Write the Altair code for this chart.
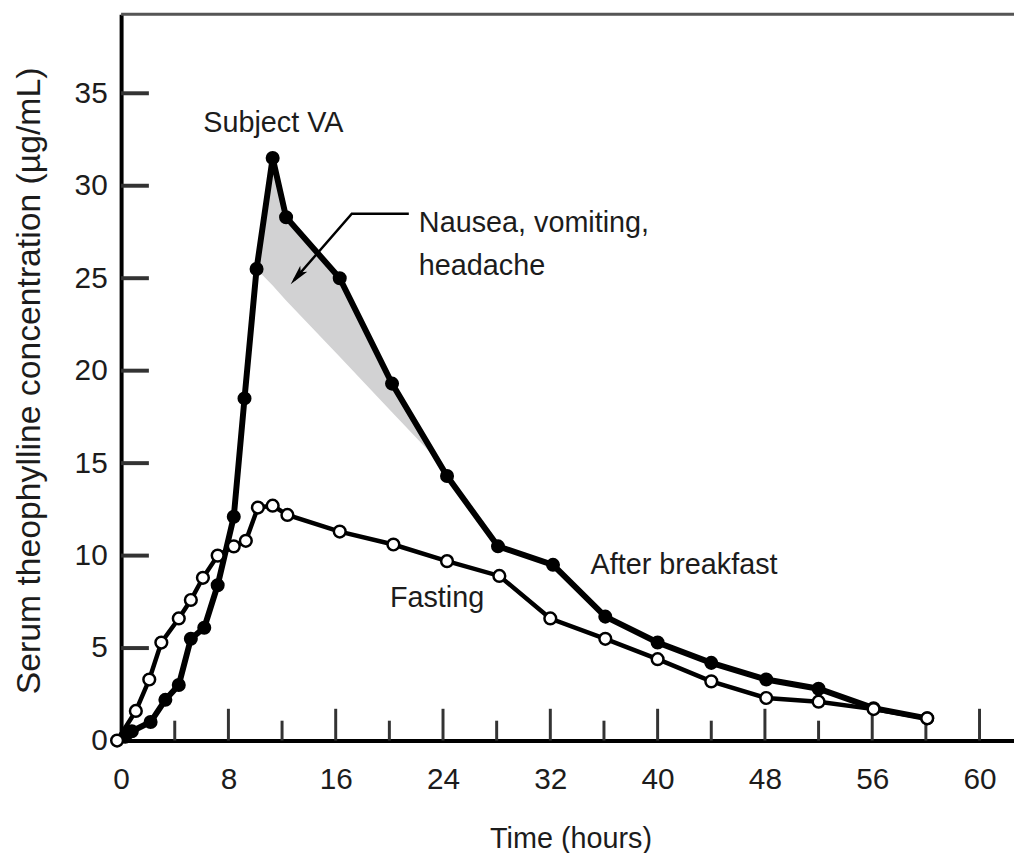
import altair as alt
import pandas as pd

# ---- data ----
time_breakfast = [0.3, 0.8, 2.2, 3.3, 4.3, 5.2, 6.2, 7.2, 8.4, 9.2, 10.1, 11.3, 12.3, 16.3, 20.2,
                  24.3, 28.1, 32.2, 36.1, 40.0, 44.0, 48.1, 52.0, 56.1, 60.1]
conc_breakfast = [0.2, 0.5, 1.0, 2.2, 3.0, 5.5, 6.1, 8.4, 12.1, 18.5, 25.5, 31.5, 28.3, 25.0, 19.3,
                  14.3, 10.5, 9.5, 6.7, 5.3, 4.2, 3.3, 2.8, 1.75, 1.2]

time_fasting = [-0.3, 1.1, 2.1, 3.0, 4.3, 5.2, 6.1, 7.2, 8.4, 9.3, 10.2, 11.3, 12.4, 16.3, 20.3,
                24.3, 28.2, 32.0, 36.1, 40.0, 44.0, 48.1, 52.0, 56.1, 60.1]
conc_fasting = [0.0, 1.6, 3.3, 5.3, 6.6, 7.6, 8.8, 10.0, 10.5, 10.8, 12.6, 12.7, 12.2, 11.3, 10.6,
                9.7, 8.9, 6.6, 5.5, 4.4, 3.2, 2.3, 2.1, 1.7, 1.2]

# toxic-symptom shaded region
shade_time = [10.1, 11.3, 12.3, 16.3, 20.2, 23.6]
shade_upper = [25.5, 31.5, 28.3, 25.0, 19.3, 15.15]
shade_lower = [25.5, 24.6, 23.8, 20.75, 17.75, 15.15]

y_tick_values = [0, 5, 10, 15, 20, 25, 30, 35]
x_major_values = [0, 8, 16, 24, 32, 40, 48, 56, 64]
x_minor_values = [4, 12, 20, 28, 36, 44, 52, 60]

# annotation texts (position in data units)
label_text = ["Subject VA", "Nausea, vomiting,", "headache", "After breakfast", "Fasting"]
label_time = [11.35, 22.2, 22.2, 35.0, 20.04]
label_conc = [32.9, 27.52, 25.2, 9.01, 7.24]
label_align = ["center", "left", "left", "left", "left"]

arrow_time = [21.45, 17.2, 12.9]
arrow_conc = [28.49, 28.49, 24.9]
arrowhead_time = [13.13]
arrowhead_conc = [25.09]

# ---- layout ----
W, H = 900, 732
XMAX, YMAX = 66.57, 39.27
FONT = "Liberation Sans"
INK = "#1c1c1c"

xs = alt.Scale(domain=[0, XMAX], nice=False, zero=False)
ys = alt.Scale(domain=[0, YMAX], nice=False, zero=False)

df_b = pd.DataFrame({"t": time_breakfast, "c": conc_breakfast})
df_f = pd.DataFrame({"t": time_fasting, "c": conc_fasting})
df_s = pd.DataFrame({"t": shade_time, "c": shade_upper, "lo": shade_lower})
df_lab = pd.DataFrame({"txt": label_text, "t": label_time, "c": label_conc, "al": label_align})
df_arrow = pd.DataFrame({"t": arrow_time, "c": arrow_conc, "o": list(range(len(arrow_time)))})
df_head = pd.DataFrame({"t": arrowhead_time, "c": arrowhead_conc})
df_yt = pd.DataFrame({"c": [v for v in y_tick_values if v > 0]})
df_xmaj = pd.DataFrame({"t": [v for v in x_major_values if v > 0]})
df_xmin = pd.DataFrame({"t": x_minor_values})
df_one = pd.DataFrame({"a": [0]})

x_axis = alt.Axis(
    values=x_major_values,
    labelExpr="datum.value == 64 ? '60' : datum.label",
    labelFontSize=30, labelColor=INK, labelFont=FONT, labelPadding=24,
    labelFlush=False, labelOverlap=False,
    ticks=False, grid=False,
    domainColor="#000000", domainWidth=4,
    title="Time (hours)", titleFont=FONT, titleFontSize=29, titleFontWeight="normal",
    titleColor=INK, titleX=453, titleY=99, titleBaseline="middle", titleAlign="center",
)
y_axis = alt.Axis(
    values=y_tick_values,
    labelFontSize=30, labelColor=INK, labelFont=FONT, labelPadding=14,
    labelFlush=False, labelOverlap=False,
    ticks=False, grid=False,
    domainColor="#000000", domainWidth=4,
    title="Serum theophylline concentration (µg/mL)", titleFont=FONT, titleFontSize=34,
    titleFontWeight="normal", titleColor=INK, titleX=-92, titleY=369,
    titleBaseline="middle", titleAlign="center", titleAngle=270,
)

X = alt.X("t:Q", scale=xs, axis=x_axis)
Y = alt.Y("c:Q", scale=ys, axis=y_axis)

shade = alt.Chart(df_s).mark_area(color="#d2d2d3", opacity=1).encode(
    x=X, y=Y, y2="lo:Q",
)

top_border = alt.Chart(df_one).mark_rule(color="#555555", strokeWidth=3).encode(
    x=alt.value(0), x2=alt.value(W), y=alt.value(0)
)

y_ticks = alt.Chart(df_yt).mark_rule(color="#333333", strokeWidth=4).encode(
    y=Y, x=alt.value(0), x2=alt.value(28)
)
x_major = alt.Chart(df_xmaj).mark_rule(color="#333333", strokeWidth=3).encode(
    x=X, y=alt.value(H - 32), y2=alt.value(H)
)
x_minor = alt.Chart(df_xmin).mark_rule(color="#333333", strokeWidth=3).encode(
    x=X, y=alt.value(H - 20), y2=alt.value(H)
)

line_b = alt.Chart(df_b).mark_line(color="#000000", strokeWidth=6).encode(x=X, y=Y)
pts_b = alt.Chart(df_b).mark_circle(color="#000000", size=200, opacity=1).encode(x=X, y=Y)
line_f = alt.Chart(df_f).mark_line(color="#000000", strokeWidth=4.5).encode(x=X, y=Y)
pts_f = alt.Chart(df_f).mark_point(
    shape="circle", filled=True, fill="#ffffff", stroke="#000000", strokeWidth=2.5,
    size=140, opacity=1,
).encode(x=X, y=Y)

arrow = alt.Chart(df_arrow).mark_line(color="#000000", strokeWidth=2.5).encode(
    x=X, y=Y, order="o:Q",
)
head = alt.Chart(df_head).mark_point(
    shape="M0,-1L0.45,1L0,0.55L-0.45,1Z", filled=True, color="#000000", opacity=1,
    size=420, angle=220,
).encode(x=X, y=Y)

texts_center = alt.Chart(df_lab[df_lab["al"] == "center"]).mark_text(
    font=FONT, fontSize=29, color=INK, align="center", baseline="alphabetic"
).encode(x=X, y=Y, text="txt:N")
texts_left = alt.Chart(df_lab[df_lab["al"] == "left"]).mark_text(
    font=FONT, fontSize=29, color=INK, align="left", baseline="alphabetic"
).encode(x=X, y=Y, text="txt:N")

chart = alt.layer(
    shade, top_border, y_ticks, x_major, x_minor,
    line_b, pts_b, line_f, pts_f, arrow, head, texts_center, texts_left,
).properties(
    width=W, height=H,
    autosize=alt.AutoSizeParams(type="none"),
    padding={"left": 114, "top": 3, "right": 0, "bottom": 110},
).configure_view(stroke=None).configure(font=FONT, background="#ffffff")

chart.save("out.html", embed_options={"renderer": "svg", "actions": False})
